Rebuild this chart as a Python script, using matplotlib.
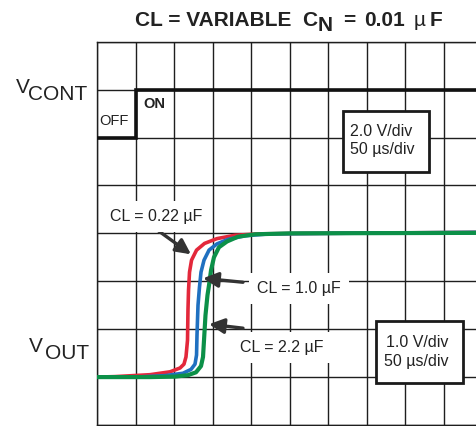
import matplotlib.pyplot as plt
from matplotlib.patches import Rectangle

plt.rcParams["font.family"] = ["Liberation Sans", "DejaVu Sans"]

# scope settings
us_per_div = 50.0
vout_per_div = 1.0
vcont_per_div = 2.0

# V_CONT step (time in us, volts)
vcont_t = [0, 50, 50, 492]
vcont_v = [0, 0, 2, 2]

# V_OUT traces (time in us, volts)
red_t = [0, 23.3, 68.7, 94.7, 107.7, 112.8, 115.4, 117.4, 118.0, 118.7, 120.0,
         122.6, 129.1, 139.5, 155.6, 178.9, 211.4, 289.2, 491.6]
red_v = [0, 0.01, 0.05, 0.11, 0.19, 0.27, 0.42, 0.77, 1.40, 1.81, 2.19,
         2.44, 2.65, 2.79, 2.89, 2.96, 2.99, 3.0, 3.02]

blue_t = [0, 55.8, 88.2, 111.5, 121.9, 127.1, 129.1, 129.7, 131.0, 132.9, 134.9,
          138.8, 145.3, 155.6, 169.9, 192.0, 224.4, 302.2, 491.6]
blue_v = [0, 0.004, 0.03, 0.08, 0.16, 0.27, 0.46, 0.875, 1.5, 1.875, 2.19,
          2.44, 2.65, 2.78, 2.875, 2.95, 2.99, 3.0, 3.02]

green_t = [0, 68.7, 101.2, 118.0, 128.4, 134.9, 137.5, 138.8, 140.7, 143.3, 145.3,
           147.9, 151.7, 158.2, 168.6, 182.9, 204.9, 250.3, 491.6]
green_v = [0, 0, 0.01, 0.04, 0.10, 0.23, 0.42, 0.77, 1.29, 1.71, 1.92,
           2.23, 2.5, 2.71, 2.83, 2.93, 2.98, 3.0, 3.01]

W, H = 476, 426
fig = plt.figure(figsize=(W / 100, H / 100), dpi=100)
x0, x1, y0, y1 = 97, 476, 41.7, 425
ax = fig.add_axes([x0 / W, 1 - y1 / H, (x1 - x0) / W, (y1 - y0) / H])
div_px = 38.55
ax.set_xlim(0, (x1 - x0) / div_px)
ax.set_ylim(0, 8)


def px(x, y):
    # pixel position -> grid divisions (layout helper)
    return (x - x0) / div_px, (y1 - y) / 48.0


ax.set_xticks(range(0, 10))
ax.set_yticks(range(0, 9))
ax.tick_params(length=0, labelbottom=False, labelleft=False)
ax.grid(True, color="#1e1e1e", lw=1.0, zorder=0)
ax.set_axisbelow(True)
for s in ["top", "bottom", "left"]:
    ax.spines[s].set_color("#1e1e1e")
    ax.spines[s].set_linewidth(1.0)
ax.spines["right"].set_visible(False)

# V_CONT
ax.plot([t / us_per_div for t in vcont_t], [6 + v / vcont_per_div for v in vcont_v],
        color="#111111", lw=2.6, solid_joinstyle="miter", zorder=3)

# V_OUT traces
for tt, vv, c, lw in [(red_t, red_v, "#e3283b", 2.6),
                      (blue_t, blue_v, "#1f70c0", 2.6),
                      (green_t, green_v, "#0c9048", 3.0)]:
    ax.plot([t / us_per_div for t in tt], [1 + v / vout_per_div for v in vv],
            color=c, lw=lw, solid_capstyle="round", solid_joinstyle="round", zorder=4)

# scale boxes
for (bx0, by0, bx1, by1) in [(342.7, 110, 429, 172), (375.7, 320.7, 463, 383)]:
    xa, ya = px(bx0, by1)
    xb, yb = px(bx1, by0)
    ax.add_patch(Rectangle((xa, ya), xb - xa, yb - ya, fc="white", ec="#1a1a1a",
                           lw=2.0, zorder=5))

txt = dict(fontsize=11.5, color="#222222", zorder=6, va="baseline", ha="left")
ax.text(*px(350, 135), "2.0 V/div", **txt)
ax.text(*px(350, 154), "50 µs/div", **txt)
ax.text(*px(386, 347), "1.0 V/div", **txt)
ax.text(*px(384, 366), "50 µs/div", **txt)

# capacitor labels
lab = dict(fontsize=11.5, color="#222222", zorder=6, va="baseline", ha="left",
           bbox=dict(boxstyle="square,pad=0.5", fc="white", ec="none"))
ax.text(*px(110, 221), "CL = 0.22 µF", **lab)
ax.text(*px(257, 293), "CL = 1.0 µF", **lab)
ax.text(*px(240, 352), "CL = 2.2 µF", **lab)

arr = dict(arrowstyle="-|>,head_length=0.9,head_width=0.45", color="#333333",
           lw=2.4, shrinkA=0, shrinkB=0)
for tail, tip in [((155, 228), (191, 254)), ((243, 282), (203, 278)),
                  ((243, 328), (209, 324))]:
    ax.annotate("", xy=px(*tip), xytext=px(*tail), arrowprops=arr, zorder=5)

ax.text(*px(99, 124), "OFF", fontsize=10.5, color="#222222", va="baseline", zorder=6)
ax.text(*px(143, 107), "ON", fontsize=10.5, fontweight="bold", color="#222222",
        va="baseline", zorder=6)


def ftext(x, y, s, **kw):
    fig.text(x / W, 1 - y / H, s, va="baseline", ha="left", color="#222222", **kw)


# channel names
ftext(16, 93, "V", fontsize=15)
ftext(28, 100, "CONT", fontsize=15)
ftext(29, 352, "V", fontsize=15)
ftext(45, 359, "OUT", fontsize=15)

# title
tt = dict(fontsize=15, fontweight="bold")
ftext(135, 26, "CL = VARIABLE", **tt)
ftext(302, 26, "C", **tt)
ftext(318, 31, "N", **tt)
ftext(343, 26, "=", **tt)
ftext(364, 26, "0.01", **tt)
ftext(414, 26, "µ", fontsize=15)
ftext(430, 26, "F", **tt)

fig.savefig("out.png", dpi=100)
